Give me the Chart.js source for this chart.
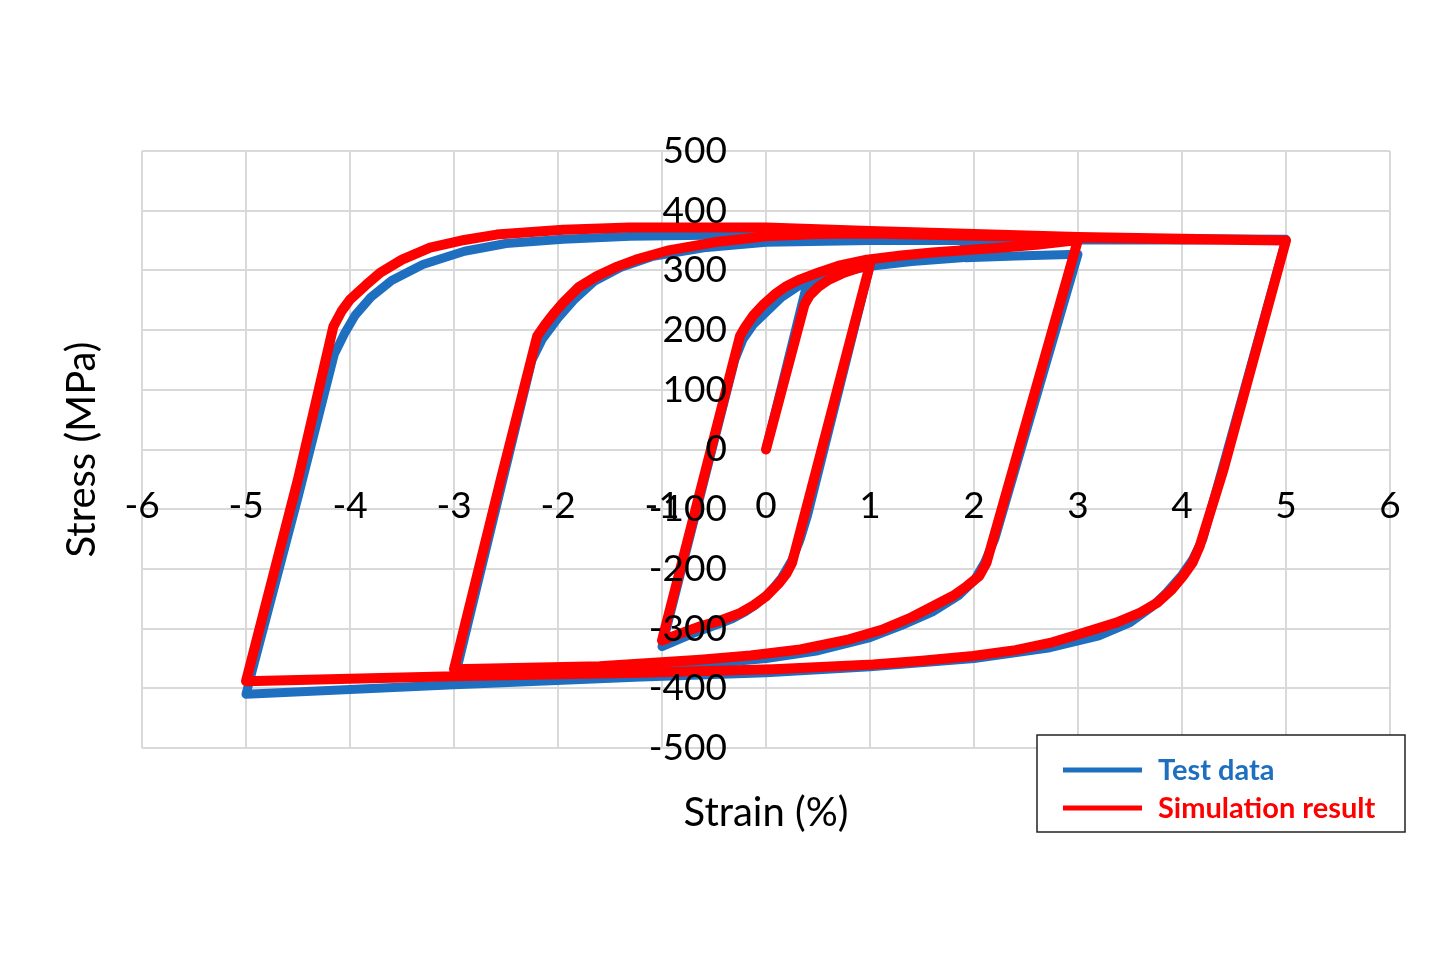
<!DOCTYPE html>
<html>
<head>
<meta charset="utf-8">
<script src="https://cdn.jsdelivr.net/npm/chart.js@4.4.1/dist/chart.umd.min.js"></script>
<style>
  html, body { margin: 0; padding: 0; background: #ffffff; }
  #wrap { width: 1440px; height: 960px; position: relative; }
</style>
</head>
<body>
<div id="wrap"><canvas id="c" width="1440" height="960"></canvas></div>
<script>
// ---- Data ----
const seriesLabels = ['Test data', 'Simulation result'];

// Test data (blue)
const testStrain = [
  0, 0.38, 0.42, 0.47, 0.55, 0.65, 0.75, 0.88, 1.0,
  0.4, 0.33, 0.25, 0.15, 0.07, 0, -0.1, -0.2, -0.32, -0.45, -0.7, -1.0,
  -0.3, -0.22, -0.12, 0, 0.15, 0.33, 0.6, 1.0, 1.4, 1.88, 1.9, 1.92, 2.4, 3.0,
  2.2, 2.1, 2.0, 1.85, 1.6, 1.3, 1.0, 0.5, 0, -0.63, -1.6, -3.0,
  -2.25, -2.15, -2.0, -1.85, -1.65, -1.4, -1.1, -0.6, 0, 1, 2, 3, 4, 5,
  4.2, 4.1, 4.0, 3.85, 3.7, 3.5, 3.2, 2.73, 2.0, 1.0, 0, -1.2, -3, -5,
  -4.5, -4.15, -4.05, -3.95, -3.8, -3.6, -3.3, -2.9, -2.5, -1.95, -1.31, 0, 1, 2, 3, 4, 5
];
const testStress = [
  0, 268, 277, 285, 292, 297, 301, 305, 308,
  -110, -150, -185, -215, -232, -245, -260, -272, -283, -292, -308, -330,
  150, 185, 210, 230, 255, 276, 293, 307, 315, 321, 338, 321, 324, 327,
  -150, -190, -220, -245, -272, -295, -315, -337, -350, -360, -375, -388,
  150, 185, 220, 250, 282, 305, 323, 338, 347, 350, 350, 351, 351, 352,
  -150, -185, -210, -240, -265, -290, -312, -332, -350, -364, -374, -381, -394, -410,
  -80, 160, 195, 225, 255, 283, 310, 332, 345, 352, 357, 360, 358, 356, 354, 353, 352
];

// Simulation result (red)
const simStrain = [
  0, 0.37, 0.42, 0.5, 0.6, 0.75, 0.9, 1.0,
  0.25, 0.2, 0.12, 0, -0.12, -0.25, -0.45, -0.63, -0.82, -1.0,
  -0.25, -0.2, -0.12, -0.03, 0.1, 0.2, 0.33, 0.5, 0.7, 0.97, 1.3, 1.6, 2.0, 2.25, 2.6, 3.0,
  2.12, 2.05, 1.93, 1.8, 1.6, 1.4, 1.13, 0.8, 0.33, -0.15, -0.63, -1.6, -3.0,
  -2.55, -2.2, -2.12, -2.03, -1.95, -1.8, -1.63, -1.45, -1.25, -0.95, -0.5, 0, 0.5, 1, 2, 3, 4, 5,
  4.4, 4.17, 4.1, 4.01, 3.9, 3.76, 3.6, 3.37, 3.0, 2.73, 2.4, 1.99, 1.5, 1.03, 0.07, -1.21, -3, -5,
  -4.5, -4.16, -4.08, -4.0, -3.85, -3.71, -3.5, -3.23, -2.9, -2.59, -1.95, -1.31, 0, 1, 2, 3, 4, 5
];
const simStress = [
  0, 243, 258, 272, 284, 296, 305, 310,
  -190, -207, -225, -246, -261, -274, -287, -296, -308, -320,
  190, 205, 225, 242, 262, 274, 285, 296, 308, 318, 325, 330, 335, 338, 343, 351,
  -190, -212, -229, -245, -263, -281, -301, -318, -335, -345, -352, -363, -368,
  -50, 190, 210, 230, 246, 272, 290, 305, 318, 333, 347, 357, 361, 362, 358, 355, 352, 350,
  -33, -162, -190, -212, -235, -257, -273, -290, -310, -324, -336, -346, -354, -360, -368, -374, -380, -388,
  -50, 206, 232, 251, 275, 296, 318, 338, 351, 360, 368, 372, 372, 366, 361, 356, 353, 350
];

const xTicks = [-6, -5, -4, -3, -2, -1, 0, 1, 2, 3, 4, 5, 6];
const yTicks = [-500, -400, -300, -200, -100, 0, 100, 200, 300, 400, 500];

const testColor = '#1f6fc0';
const simColor = '#ff0000';

// ---- Build chart ----
const toPoints = (xs, ys) => xs.map((x, i) => ({ x: x, y: ys[i] }));

Chart.defaults.font.family = 'Lato, "Open Sans", sans-serif';
Chart.defaults.color = '#000000';

const legendBox = {
  id: 'legendBox',
  afterDraw(chart) {
    const ctx = chart.ctx;
    ctx.save();
    const bx = 1037, by = 735, bw = 368, bh = 97;
    ctx.fillStyle = '#ffffff';
    ctx.fillRect(bx, by, bw, bh);
    ctx.strokeStyle = '#222222';
    ctx.lineWidth = 1.5;
    ctx.strokeRect(bx, by, bw, bh);
    const rows = [770, 808];
    const order = [0, 1];
    order.forEach((di, r) => {
      const ds = chart.data.datasets[di];
      const y = rows[r];
      ctx.strokeStyle = ds.borderColor;
      ctx.lineWidth = 5;
      ctx.lineCap = 'butt';
      ctx.beginPath();
      ctx.moveTo(1063, y);
      ctx.lineTo(1142, y);
      ctx.stroke();
      ctx.fillStyle = ds.borderColor;
      ctx.font = 'bold 29px Lato, "Open Sans", sans-serif';
      ctx.textBaseline = 'middle';
      ctx.textAlign = 'left';
      ctx.fillText(ds.label, 1158, y + 1);
    });
    ctx.restore();
  }
};

const axisGrid = { color: '#d9d9d9', lineWidth: 2, drawTicks: false };
const axisBorder = { display: true, color: '#d9d9d9', width: 2 };

new Chart(document.getElementById('c'), {
  type: 'scatter',
  data: {
    datasets: [
      {
        label: seriesLabels[0],
        data: toPoints(testStrain, testStress),
        showLine: true,
        borderColor: testColor,
        backgroundColor: testColor,
        borderWidth: 9,
        pointRadius: 0,
        tension: 0,
        borderJoinStyle: 'round',
        borderCapStyle: 'round',
        order: 2
      },
      {
        label: seriesLabels[1],
        data: toPoints(simStrain, simStress),
        showLine: true,
        borderColor: simColor,
        backgroundColor: simColor,
        borderWidth: 10,
        pointRadius: 0,
        tension: 0,
        borderJoinStyle: 'round',
        borderCapStyle: 'round',
        order: 1
      }
    ]
  },
  options: {
    responsive: false,
    animation: false,
    layout: { padding: { left: 0, top: 151, right: 50, bottom: 123 } },
    plugins: {
      legend: { display: false },
      tooltip: { enabled: false },
      title: {
        display: true,
        text: 'Stress (MPa)',
        position: 'left',
        fullSize: false,
        font: { size: 40, weight: 'normal' },
        color: '#000000',
        padding: { top: 58, bottom: 36 }
      },
      subtitle: {
        display: true,
        text: 'Strain (%)',
        position: 'bottom',
        fullSize: false,
        font: { size: 40, weight: 'normal' },
        color: '#000000',
        padding: { top: 41, bottom: 0 }
      }
    },
    scales: {
      x: {
        type: 'linear',
        position: { y: 0 },
        min: xTicks[0],
        max: xTicks[xTicks.length - 1],
        afterBuildTicks: (scale) => { scale.ticks = xTicks.map(v => ({ value: v })); },
        grid: axisGrid,
        border: axisBorder,
        ticks: { font: { size: 37 }, color: '#000000', padding: 34, maxRotation: 0, autoSkip: false, z: 1 }
      },
      y: {
        type: 'linear',
        position: { x: 0 },
        min: yTicks[0],
        max: yTicks[yTicks.length - 1],
        afterBuildTicks: (scale) => { scale.ticks = yTicks.map(v => ({ value: v })); },
        grid: axisGrid,
        border: axisBorder,
        ticks: { display: false }
      },
      yLabels: {
        type: 'linear',
        position: { x: -0.375 },
        min: yTicks[0],
        max: yTicks[yTicks.length - 1],
        afterBuildTicks: (scale) => { scale.ticks = yTicks.map(v => ({ value: v })); },
        grid: { display: false, drawTicks: false },
        border: { display: false },
        ticks: { font: { size: 37 }, color: '#000000', padding: 0, autoSkip: false, z: 1 }
      }
    }
  },
  plugins: [legendBox]
});
</script>
</body>
</html>
